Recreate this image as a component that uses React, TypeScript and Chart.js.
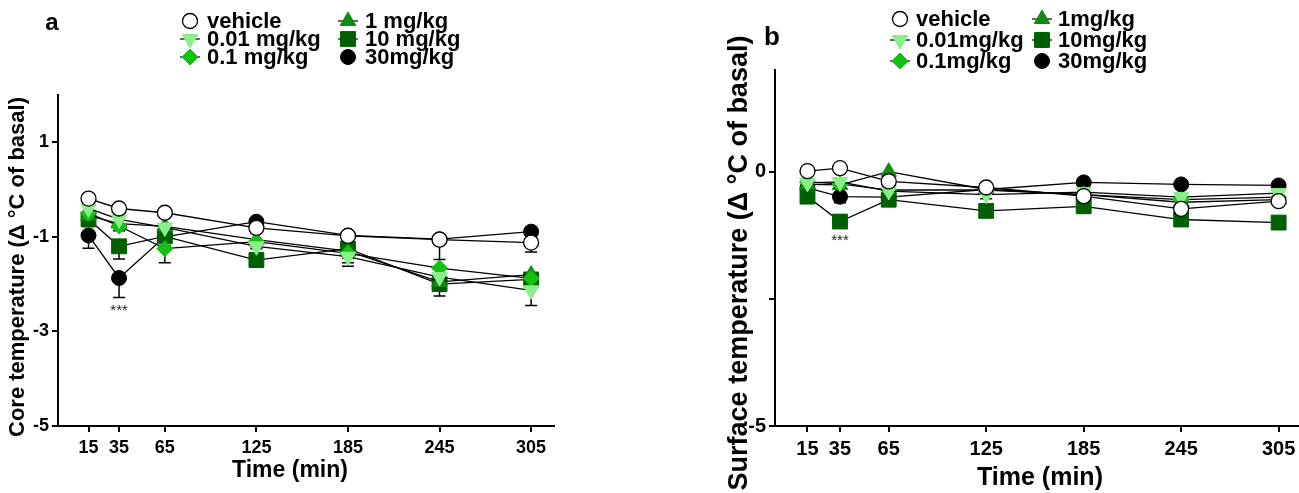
import React, { useEffect, useRef } from 'react';
import { Chart, registerables } from 'chart.js';

Chart.register(...registerables);

// ---------- data ----------
const TIMES = [15, 35, 65, 125, 185, 245, 305];
const X_TICKS = [15, 35, 65, 125, 185, 245, 305];
const Y_TICKS_A = [-5, -3, -1, 1];
const Y_TICKS_B = [-5, -2.5, 0];
const Y_LABELED_B = [-5, 0];

const LABELS_A = ['vehicle', '0.01 mg/kg', '0.1 mg/kg', '1 mg/kg', '10 mg/kg', '30mg/kg'];
const LABELS_B = ['vehicle', '0.01mg/kg', '0.1mg/kg', '1mg/kg', '10mg/kg', '30mg/kg'];

// Core temperature (panel a)
const CORE_VEHICLE = [-0.19, -0.4, -0.49, -0.81, -0.98, -1.06, -1.12];
const CORE_001 = [-0.4, -0.63, -0.8, -1.2, -1.42, -1.85, -2.13];
const CORE_01 = [-0.5, -0.77, -1.25, -1.1, -1.35, -1.66, -1.88];
const CORE_1 = [-0.55, -0.72, -0.78, -1.06, -1.3, -1.95, -1.8];
const CORE_10 = [-0.63, -1.2, -0.99, -1.49, -1.25, -2.0, -1.9];
const CORE_30 = [-0.97, -1.87, -1.0, -0.68, -0.97, -1.05, -0.89];

const CORE_VEHICLE_ERR = [0.1, 0.1, 0.1, 0.1, 0.1, 0.42, 0.2];
const CORE_001_ERR = [0.1, 0.1, 0.2, 0.15, 0.2, 0.2, 0.32];
const CORE_01_ERR = [0.1, 0.1, 0.3, 0.15, 0.2, 0.25, 0.2];
const CORE_1_ERR = [0.1, 0.1, 0.2, 0.15, 0.15, 0.2, 0.2];
const CORE_10_ERR = [0.15, 0.27, 0.2, 0.15, 0.2, 0.25, 0.2];
const CORE_30_ERR = [0.27, 0.41, 0.2, 0.1, 0.1, 0.1, 0.1];

// Surface temperature (panel b)
const SURF_VEHICLE = [0.01, 0.07, -0.19, -0.31, -0.48, -0.73, -0.58];
const SURF_001 = [-0.22, -0.2, -0.38, -0.45, -0.4, -0.5, -0.42];
const SURF_01 = [-0.2, -0.24, -0.36, -0.36, -0.45, -0.55, -0.5];
const SURF_1 = [-0.25, -0.26, 0.0, -0.35, -0.45, -0.6, -0.55];
const SURF_10 = [-0.49, -0.98, -0.55, -0.77, -0.68, -0.94, -1.0];
const SURF_30 = [-0.32, -0.49, -0.5, -0.35, -0.21, -0.25, -0.27];

const SURF_VEHICLE_ERR = [0.05, 0.05, 0.08, 0.05, 0.08, 0.08, 0.08];
const SURF_001_ERR = [0.05, 0.05, 0.1, 0.08, 0.1, 0.08, 0.1];
const SURF_01_ERR = [0.05, 0.05, 0.1, 0.08, 0.1, 0.08, 0.08];
const SURF_1_ERR = [0.05, 0.05, 0.1, 0.08, 0.1, 0.08, 0.08];
const SURF_10_ERR = [0.1, 0.1, 0.1, 0.1, 0.12, 0.1, 0.1];
const SURF_30_ERR = [0.08, 0.12, 0.18, 0.08, 0.08, 0.08, 0.08];

const STAR_TIME_A = 35;
const STAR_VALUE_A = -2.5;
const STAR_TIME_B = 35;
const STAR_VALUE_B = -1.3;

// ---------- styles ----------
const FONT = '"Liberation Sans", Arial, Helvetica, sans-serif';
const STYLES = [
  { shape: 'circle', rot: 0, r: 7.5, fill: '#ffffff', stroke: '#000000', lw: 1.3 },
  { shape: 'triangle', rot: 180, r: 9, fill: '#8aee8a', stroke: '#8aee8a', lw: 1 },
  { shape: 'rectRot', rot: 0, r: 8, fill: '#14c014', stroke: '#14c014', lw: 1 },
  { shape: 'triangle', rot: 0, r: 9, fill: '#118a11', stroke: '#118a11', lw: 1 },
  { shape: 'rect', rot: 0, r: 10.5, fill: '#005f00', stroke: '#005f00', lw: 1 },
  { shape: 'circle', rot: 0, r: 7.5, fill: '#000000', stroke: '#000000', lw: 1 },
];

function drawMarker(ctx: CanvasRenderingContext2D, s: any, x: number, y: number) {
  ctx.save();
  ctx.beginPath();
  const r = s.r;
  if (s.shape === 'circle') {
    ctx.arc(x, y, r, 0, Math.PI * 2);
  } else if (s.shape === 'triangle') {
    let a = (s.rot * Math.PI) / 180;
    ctx.moveTo(x + Math.sin(a) * r, y - Math.cos(a) * r);
    a += (2 * Math.PI) / 3;
    ctx.lineTo(x + Math.sin(a) * r, y - Math.cos(a) * r);
    a += (2 * Math.PI) / 3;
    ctx.lineTo(x + Math.sin(a) * r, y - Math.cos(a) * r);
    ctx.closePath();
  } else if (s.shape === 'rect') {
    const h = r * Math.SQRT1_2;
    ctx.rect(x - h, y - h, 2 * h, 2 * h);
  } else {
    ctx.moveTo(x, y - r);
    ctx.lineTo(x + r, y);
    ctx.lineTo(x, y + r);
    ctx.lineTo(x - r, y);
    ctx.closePath();
  }
  ctx.fillStyle = s.fill;
  ctx.fill();
  ctx.strokeStyle = s.stroke;
  ctx.lineWidth = s.lw;
  ctx.stroke();
  ctx.restore();
}

type Panel = {
  letter: string;
  letterX: number;
  letterY: number;
  letterSize: number;
  labels: string[];
  series: number[][];
  errors: number[][];
  yTicks: number[];
  yLabeled: number[];
  yTitle: string;
  yTitleX: number;
  yTitleY: number;
  yTitleSize: number;
  xTitleX: number;
  xTitleY: number;
  xTitleSize: number;
  tickSize: number;
  legendCols: number[];
  legendTextGap: number;
  legendRows: number[];
  legendSize: number;
  starTime: number;
  starValue: number;
  canvasLeft: number;
  canvasWidth: number;
  yWidth: number;
  padTop: number;
  padRight: number;
};

const PANEL_A: Panel = {
  letter: 'a', letterX: 52, letterY: 23, letterSize: 24,
  labels: LABELS_A,
  series: [CORE_VEHICLE, CORE_001, CORE_01, CORE_1, CORE_10, CORE_30],
  errors: [CORE_VEHICLE_ERR, CORE_001_ERR, CORE_01_ERR, CORE_1_ERR, CORE_10_ERR, CORE_30_ERR],
  yTicks: Y_TICKS_A, yLabeled: Y_TICKS_A,
  yTitle: 'Core temperature (\u0394 \u00B0C of basal)', yTitleX: 18, yTitleY: 267, yTitleSize: 22,
  xTitleX: 290, xTitleY: 471, xTitleSize: 23,
  tickSize: 18,
  legendCols: [190, 348], legendTextGap: 17, legendRows: [21, 39, 57], legendSize: 22,
  starTime: STAR_TIME_A, starValue: STAR_VALUE_A,
  canvasLeft: 0, canvasWidth: 640, yWidth: 58, padTop: 95, padRight: 86,
};

const PANEL_B: Panel = {
  letter: 'b', letterX: 772, letterY: 38, letterSize: 26,
  labels: LABELS_B,
  series: [SURF_VEHICLE, SURF_001, SURF_01, SURF_1, SURF_10, SURF_30],
  errors: [SURF_VEHICLE_ERR, SURF_001_ERR, SURF_01_ERR, SURF_1_ERR, SURF_10_ERR, SURF_30_ERR],
  yTicks: Y_TICKS_B, yLabeled: Y_LABELED_B,
  yTitle: 'Surface temperature (\u0394 \u00B0C of basal)', yTitleX: 740, yTitleY: 263, yTitleSize: 27,
  xTitleX: 1040, xTitleY: 478, xTitleSize: 25,
  tickSize: 20,
  legendCols: [900, 1042], legendTextGap: 16, legendRows: [19, 40, 61], legendSize: 22,
  starTime: STAR_TIME_B, starValue: STAR_VALUE_B,
  canvasLeft: 720, canvasWidth: 600, yWidth: 55, padTop: 70, padRight: 17,
};

function makeOverlay(p: Panel) {
  return {
    id: 'overlay' + p.letter,
    beforeDatasetsDraw(chart: any) {
      const ctx = chart.ctx as CanvasRenderingContext2D;
      const ys = chart.scales.y;
      ctx.save();
      ctx.strokeStyle = '#000';
      ctx.lineWidth = 1.5;
      p.series.forEach((vals, i) => {
        const meta = chart.getDatasetMeta(i);
        vals.forEach((v, j) => {
          const e = p.errors[i][j];
          const pt = meta.data[j];
          if (!pt) return;
          const x = pt.x;
          const y1 = ys.getPixelForValue(v);
          const y2 = ys.getPixelForValue(v - e);
          ctx.beginPath();
          ctx.moveTo(x, y1);
          ctx.lineTo(x, y2);
          ctx.moveTo(x - 6, y2);
          ctx.lineTo(x + 6, y2);
          ctx.stroke();
        });
      });
      ctx.restore();
    },
    afterDraw(chart: any) {
      const ctx = chart.ctx as CanvasRenderingContext2D;
      const off = p.canvasLeft;
      ctx.save();
      ctx.fillStyle = '#000';
      ctx.font = `bold ${p.letterSize}px ${FONT}`;
      ctx.textAlign = 'center';
      ctx.textBaseline = 'middle';
      ctx.fillText(p.letter, p.letterX - off, p.letterY);
      ctx.font = `bold ${p.legendSize}px ${FONT}`;
      ctx.textAlign = 'left';
      p.labels.forEach((lab, i) => {
        const col = Math.floor(i / 3);
        const row = i % 3;
        const mx = p.legendCols[col] - off;
        const my = p.legendRows[row];
        const s = STYLES[i];
        if (s.shape !== 'circle') {
          ctx.save();
          ctx.strokeStyle = '#000';
          ctx.lineWidth = 1.2;
          ctx.beginPath();
          ctx.moveTo(mx - 10, my);
          ctx.lineTo(mx + 10, my);
          ctx.stroke();
          ctx.restore();
        }
        drawMarker(ctx, s, mx, my);
        ctx.fillStyle = '#000';
        ctx.fillText(lab, mx + p.legendTextGap, my + 1);
      });
      ctx.textAlign = 'center';
      ctx.font = `bold ${p.xTitleSize}px ${FONT}`;
      ctx.fillText('Time (min)', p.xTitleX - off, p.xTitleY);
      ctx.save();
      ctx.translate(p.yTitleX - off, p.yTitleY);
      ctx.rotate(-Math.PI / 2);
      ctx.font = `bold ${p.yTitleSize}px ${FONT}`;
      ctx.fillText(p.yTitle, 0, 0);
      ctx.restore();
      const sx = chart.scales.x.getPixelForValue(p.starTime);
      const sy = chart.scales.y.getPixelForValue(p.starValue);
      ctx.font = `15px ${FONT}`;
      ctx.fillStyle = '#222';
      ctx.fillText('***', sx, sy + 3);
      ctx.restore();
    },
  };
}

function makeConfig(p: Panel): any {
  const datasets = p.series.map((vals, i) => {
    const s = STYLES[i];
    return {
      label: p.labels[i],
      data: TIMES.map((t, j) => ({ x: t, y: vals[j] })),
      borderColor: '#000',
      borderWidth: 1.3,
      tension: 0,
      fill: false,
      clip: false,
      pointStyle: s.shape,
      pointRotation: s.rot,
      pointRadius: s.r,
      pointHoverRadius: s.r,
      pointBackgroundColor: s.fill,
      pointBorderColor: s.stroke,
      pointBorderWidth: s.lw,
    };
  });
  return {
    type: 'line',
    data: { datasets },
    options: {
      responsive: false,
      animation: false,
      events: [],
      layout: { padding: { left: 0, top: p.padTop, right: p.padRight, bottom: 0 } },
      plugins: { legend: { display: false }, tooltip: { enabled: false }, title: { display: false } },
      scales: {
        x: {
          type: 'linear',
          min: -5,
          max: 320,
          afterBuildTicks: (scale: any) => {
            scale.ticks = X_TICKS.map((v) => ({ value: v }));
          },
          afterFit: (scale: any) => {
            scale.height = 67;
            scale.paddingLeft = 0;
            scale.paddingRight = 0;
          },
          ticks: {
            autoSkip: false,
            maxRotation: 0,
            padding: 5,
            color: '#000',
            font: { family: FONT, size: p.tickSize, weight: 'bold' },
            callback: (v: any) => String(v),
          },
          grid: { drawOnChartArea: false, drawTicks: true, tickLength: 6, color: '#000', lineWidth: 2 },
          border: { display: true, color: '#000', width: 2 },
        },
        y: {
          type: 'linear',
          min: -5,
          max: 2,
          afterBuildTicks: (scale: any) => {
            scale.ticks = p.yTicks.map((v) => ({ value: v }));
          },
          afterFit: (scale: any) => {
            scale.width = p.yWidth;
            scale.paddingTop = 0;
            scale.paddingBottom = 0;
          },
          ticks: {
            autoSkip: false,
            padding: 3,
            color: '#000',
            font: { family: FONT, size: p.tickSize, weight: 'bold' },
            callback: (v: any) => (p.yLabeled.includes(v) ? String(v) : ''),
          },
          grid: { drawOnChartArea: false, drawTicks: true, tickLength: 6, color: '#000', lineWidth: 2 },
          border: { display: true, color: '#000', width: 2 },
        },
      },
    },
    plugins: [makeOverlay(p)],
  };
}

function PanelChart({ panel }: { panel: Panel }) {
  const ref = useRef<HTMLCanvasElement | null>(null);
  useEffect(() => {
    if (!ref.current) return;
    const chart = new Chart(ref.current, makeConfig(panel));
    return () => chart.destroy();
  }, [panel]);
  return (
    <canvas
      ref={ref}
      width={panel.canvasWidth}
      height={493}
      style={{ position: 'absolute', left: panel.canvasLeft, top: 0, width: panel.canvasWidth, height: 493 }}
    />
  );
}

export default function App() {
  return (
    <div
      style={{
        position: 'fixed',
        left: 0,
        top: 0,
        width: 1299,
        height: 493,
        overflow: 'hidden',
        background: '#ffffff',
      }}
    >
      <PanelChart panel={PANEL_A} />
      <PanelChart panel={PANEL_B} />
    </div>
  );
}
